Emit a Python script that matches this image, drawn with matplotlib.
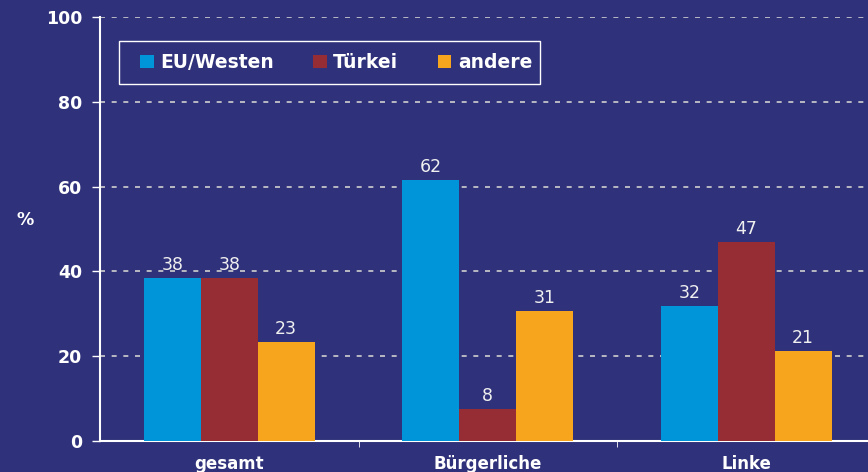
#!/usr/bin/env python3
import matplotlib
matplotlib.use("Agg")
import matplotlib.pyplot as plt
from matplotlib.patches import Rectangle
import numpy as np

categories = ["gesamt", "Bürgerliche", "Linke"]
series_names = ["EU/Westen", "Türkei", "andere"]
eu_westen = [38.4, 61.6, 31.8]
tuerkei = [38.4, 7.5, 46.9]
andere = [23.3, 30.7, 21.2]
labels_eu = ["38", "62", "32"]
labels_tr = ["38", "8", "47"]
labels_an = ["23", "31", "21"]

BG = "#2F317A"
COLORS = ["#0094D8", "#962D35", "#F7A51D"]
WHITE = "#FFFFFF"

plt.rcParams["font.family"] = ["DejaVu Sans"]

fig = plt.figure(figsize=(8.68, 4.72), dpi=100, facecolor=BG)
ax = fig.add_axes([100 / 868, 31 / 472, 768 / 868, 424 / 472], facecolor=BG)

x = np.arange(len(categories))
width = 0.22
series = [eu_westen, tuerkei, andere]
value_labels = [labels_eu, labels_tr, labels_an]
for i, (vals, labs) in enumerate(zip(series, value_labels)):
    pos = x + (i - 1) * width
    bars = ax.bar(pos, vals, width, color=COLORS[i], label=series_names[i], zorder=3)
    for b, lab in zip(bars, labs):
        ax.text(b.get_x() + b.get_width() / 2, b.get_height() + 1.0, lab,
                ha="center", va="bottom", color="#F0F0F0", fontsize=12.5, zorder=4)

ax.set_xlim(-0.5, -0.5 + 768 / 258.5)
ax.set_ylim(0, 100)
ax.set_yticks([0, 20, 40, 60, 80, 100])
ax.tick_params(axis="y", colors=WHITE, labelsize=12.5, length=6, width=1, pad=7)
for lab in ax.get_yticklabels():
    lab.set_fontweight("bold")

ax.set_xticks(x)
ax.set_xticklabels(categories, fontsize=12, fontweight="bold", color=WHITE)
ax.tick_params(axis="x", length=0, pad=10)
ax.set_xticks([0.5, 1.5], minor=True)
ax.tick_params(axis="x", which="minor", length=4, color=WHITE, direction="out")

ax.grid(axis="y", color="#D0D0D0", linestyle=(0, (3, 4)), linewidth=1.2, zorder=1)
ax.set_axisbelow(True)

for side in ["top", "right"]:
    ax.spines[side].set_visible(False)
for side in ["left", "bottom"]:
    ax.spines[side].set_color(WHITE)
    ax.spines[side].set_linewidth(1.5)

ax.set_ylabel("%", rotation=0, color=WHITE, fontsize=12.5, fontweight="bold", labelpad=0)
ax.yaxis.set_label_coords(-0.098, 0.5)

# legend: frame drawn separately so the padding can match the reference
frame = Rectangle((19 / 768, (441 - 84) / 424), 421 / 768, 43 / 424,
                  transform=ax.transAxes, facecolor=BG, edgecolor=WHITE,
                  linewidth=1.0, zorder=5)
ax.add_patch(frame)
leg = ax.legend(loc="center left", bbox_to_anchor=(40 / 768, (441 - 62.5) / 424),
                ncol=3, frameon=False, borderaxespad=0, borderpad=0,
                handlelength=0.72, handleheight=0.72, handletextpad=0.35,
                columnspacing=2.1, prop={"weight": "bold", "size": 13.5})
leg.set_zorder(6)
for t in leg.get_texts():
    t.set_color(WHITE)

fig.savefig("out.png", dpi=100, facecolor=BG)
